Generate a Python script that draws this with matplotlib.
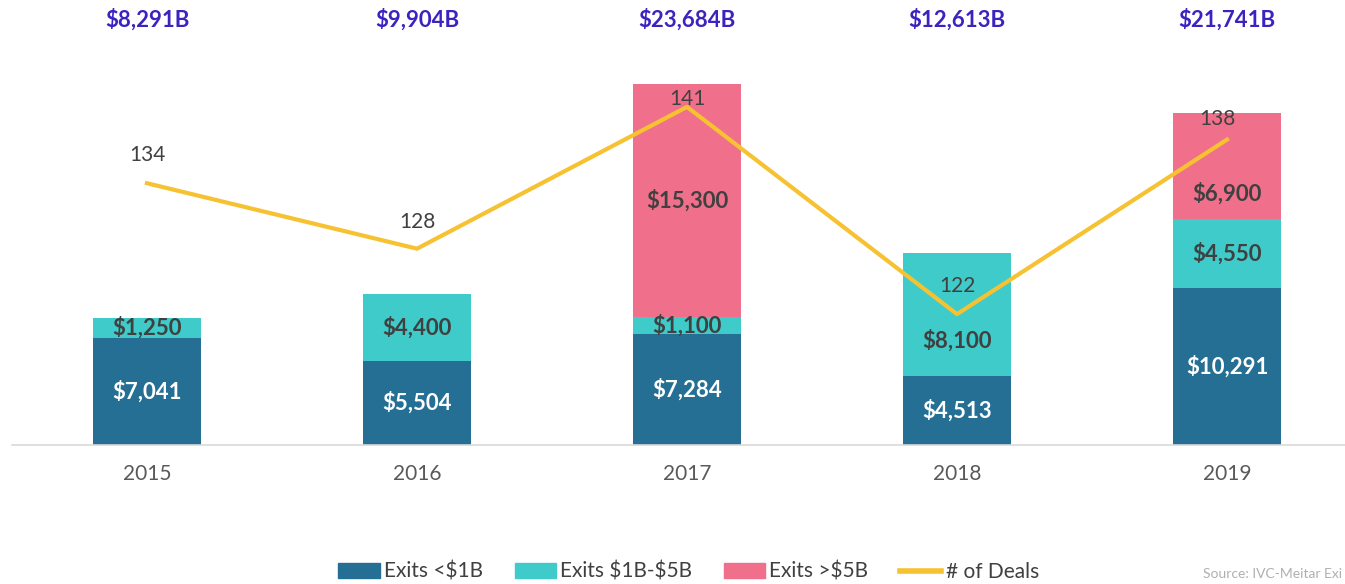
import matplotlib.pyplot as plt
from matplotlib.lines import Line2D
from matplotlib.patches import Patch

plt.rcParams['font.family'] = ['Lato', 'DejaVu Sans']

years = ["2015", "2016", "2017", "2018", "2019"]
exits_small = [7041, 5504, 7284, 4513, 10291]
exits_mid = [1250, 4400, 1100, 8100, 4550]
exits_big = [0, 0, 15300, 0, 6900]
deals = [134, 128, 141, 122, 138]
totals = ["$8,291B", "$9,904B", "$23,684B", "$12,613B", "$21,741B"]

c_small = "#246f93"
c_mid = "#3ecbc9"
c_big = "#f0708b"
c_line = "#f6c231"
c_top = "#3b23c0"
c_text = "#404040"

# label nudges in points (layout only)
mid_dy = [0, 0, 0, -19, 0]
big_dy = [0, 0, 0, 0, -20]
deal_dy = [20, 19, 6, 20, 15]
deal_dx = [0, 0, 0, 0, -7]

fig = plt.figure(figsize=(13.45, 5.84), dpi=100)
ax = fig.add_axes([12 / 1345, 139 / 584, 1350 / 1345, 385 / 584])
x = list(range(len(years)))
w = 0.4

ax.bar(x, exits_small, w, color=c_small, zorder=2)
ax.bar(x, exits_mid, w, bottom=exits_small, color=c_mid, zorder=2)
bot2 = [a + b for a, b in zip(exits_small, exits_mid)]
ax.bar(x, exits_big, w, bottom=bot2, color=c_big, zorder=2)

lab = dict(ha="center", va="center", fontsize=16, fontweight="bold",
           textcoords="offset points", zorder=5)
for i in x:
    ax.annotate(f"\\${exits_small[i]:,}", (i, exits_small[i] / 2), xytext=(0, 0),
                color="white", **lab)
    ax.annotate(f"\\${exits_mid[i]:,}", (i, exits_small[i] + exits_mid[i] / 2),
                xytext=(0, mid_dy[i]), color=c_text, **lab)
    if exits_big[i]:
        ax.annotate(f"\\${exits_big[i]:,}", (i, bot2[i] + exits_big[i] / 2),
                    xytext=(0, big_dy[i]), color=c_text, **lab)

ax.set_xlim(-0.5, 4.5)
ax.set_ylim(0, 25230)
ax.set_yticks([])
ax.set_xticks(x)
ax.set_xticklabels(years, fontsize=15, color="#595959")
ax.tick_params(axis="x", length=0, pad=14)
for s in ["top", "right", "left"]:
    ax.spines[s].set_visible(False)
ax.spines["bottom"].set_color("#d9d9d9")
ax.spines["bottom"].set_linewidth(1.2)

ax2 = ax.twinx()
ax2.plot(x, deals, color=c_line, linewidth=3, zorder=4)
ax2.set_ylim(110, 145.3)
ax2.set_yticks([])
for s in ax2.spines.values():
    s.set_visible(False)
for i in x:
    ax2.annotate(str(deals[i]), (i, deals[i]), xytext=(deal_dx[i], deal_dy[i]),
                 textcoords="offset points", ha="center", va="center",
                 fontsize=15, color=c_text)

for i in x:
    fig.text((12 + 135 + 270 * i) / 1345, 1 - 20 / 584, totals[i].replace("$", "\\$"),
             ha="center", va="center", fontsize=16, fontweight="bold", color=c_top)

handles = [Patch(color=c_small), Patch(color=c_mid), Patch(color=c_big),
           Line2D([], [], color=c_line, linewidth=4)]
labels = ["Exits <\\$1B", "Exits \\$1B-\\$5B", "Exits >\\$5B", "# of Deals"]
fig.legend(handles, labels, loc="center", bbox_to_anchor=(0.512, 1 - 572 / 584), ncol=4,
           frameon=False, fontsize=15, handlelength=2.0, handleheight=0.7,
           handletextpad=0.2, columnspacing=1.5, labelcolor="#404040")
fig.text(1203 / 1345, 1 - 574 / 584, "Source: IVC-Meitar Exi", fontsize=10,
         color="#b0b0b0", va="center")

fig.savefig("out.png", dpi=100)
